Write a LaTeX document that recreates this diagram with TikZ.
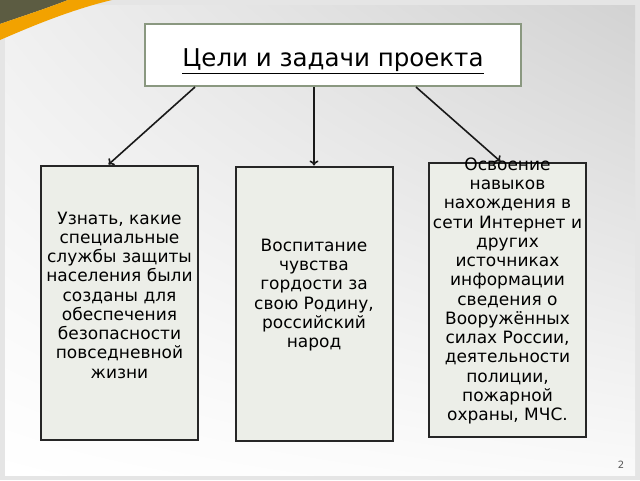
\documentclass[tikz,border=0pt]{standalone}
\usepackage{fontspec}
\setmainfont{DejaVu Sans}
\usetikzlibrary{arrows.meta,shadings}

\definecolor{boxfill}{HTML}{ECEEE8}
\definecolor{titleframe}{HTML}{8A9880}
\definecolor{oliveband}{HTML}{5C5C42}
\definecolor{swoosh}{HTML}{F2A200}

\tikzset{
  goalbox/.style={draw=black!85, line width=2pt, fill=boxfill, minimum width=157pt, minimum height=274pt, inner sep=0pt},
  goaltext/.style={align=center, inner sep=0pt, font=\fontsize{17}{19.25}\selectfont},
  goalarrow/.style={-{To[length=5pt,width=9pt]}, line width=1.6pt, black!90},
}

\begin{document}
\begin{tikzpicture}[x=1pt,y=-1pt]
\useasboundingbox (0,0) rectangle (640,480);
% slide background
\fill[gray!20] (0,0) rectangle (640,480);
\shade[upper left=gray!12, upper right=gray!35, lower left=white, lower right=gray!4] (5,5) rectangle (635,475);
\fill[oliveband] (0,0) -- (68,0) .. controls (45,9) and (20,17) .. (0,24) -- cycle;
\fill[swoosh] (68,0) .. controls (45,9) and (20,17) .. (0,24) -- (0,40) .. controls (30,27) and (70,10) .. (112,0) -- cycle;
\node[text=gray!70!black, font=\fontsize{10}{12}\selectfont] (pagenum) at (621,465) {2};

% title
\node[draw=titleframe, line width=2pt, fill=white, minimum width=376pt, minimum height=62pt] (title) at (333,55) {};
\node[font=\fontsize{24.5}{28}\selectfont, inner sep=0pt] (titletext) at ([yshift=-6pt]title.center)
  {\underline{Цели и задачи проекта}};

% goals
\node[goalbox] (goalA) at (119.5,302.5) {};
\node[goalbox] (goalB) at (314,303.5) {};
\node[goalbox] (goalC) at (507.5,299.5) {};

\node[goaltext] (goalAtext) at ([yshift=7.5pt]goalA.center)
  {Узнать, какие\\специальные\\службы защиты\\населения были\\созданы для\\обеспечения\\безопасности\\повседневной\\жизни};
\node[goaltext] (goalBtext) at ([yshift=8.5pt]goalB.center)
  {Воспитание\\чувства\\гордости за\\свою Родину,\\российский\\народ};
\node[goaltext] (goalCtext) at ([yshift=8.5pt]goalC.center)
  {Освоение\\навыков\\нахождения в\\сети Интернет и\\других\\источниках\\информации\\сведения о\\Вооружённых\\силах России,\\деятельности\\полиции,\\пожарной\\охраны, МЧС.};

% arrows
\draw[goalarrow] ([xshift=51pt]title.south west) -- ([xshift=-11pt]goalA.north);
\draw[goalarrow] (goalB.north |- title.south) -- (goalB.north);
\draw[goalarrow] ([xshift=-106pt]title.south east) -- ([xshift=-7pt]goalC.north);
\end{tikzpicture}
\end{document}
